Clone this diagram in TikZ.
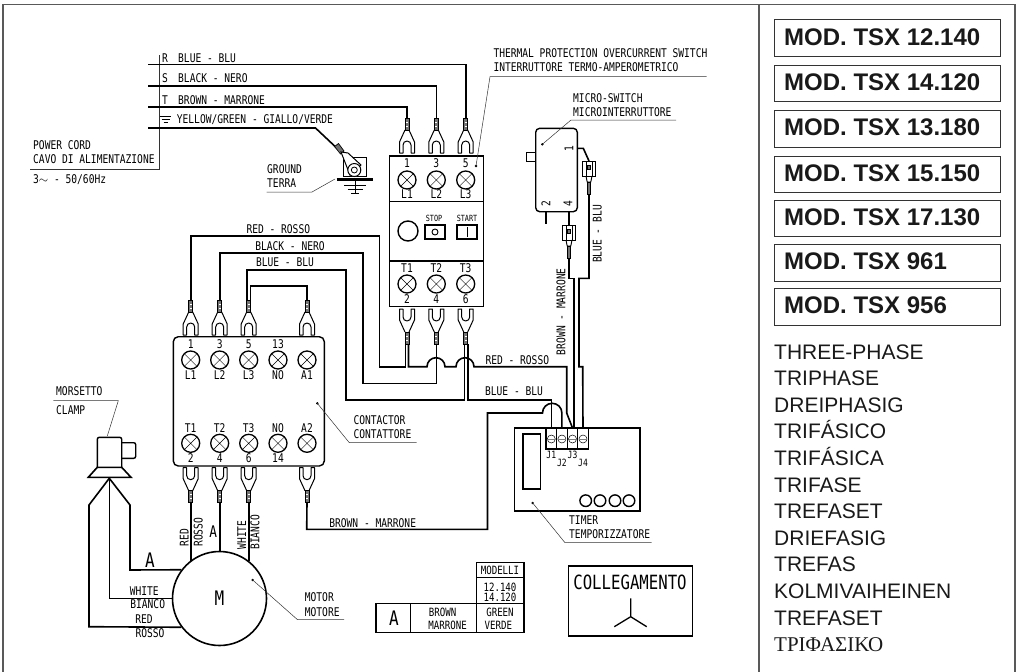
\documentclass[tikz,border=0pt]{standalone}
\usepackage{fontspec}
\usepackage{tikz}
\newfontfamily\cadfont[FakeStretch=0.8]{DejaVu Sans Mono}
\newfontfamily\helvfont{Liberation Sans}
\newfontfamily\timesfont{Liberation Serif}
\newcommand{\cadsmall}{\cadfont\fontsize{11.4}{11.4}\selectfont}
\newcommand{\cadbig}{\cadfont\fontsize{20}{20}\selectfont}
\tikzset{
	tag/.style={font=\cadfont\fontsize{12}{12}\selectfont,inner sep=0,text height=8.7pt,text depth=0pt,text=black},
	tagl/.style={tag,anchor=west},
	wire/.style={line width=1.6pt,line join=miter},
	leader/.style={line width=0.5pt,black!80},
	frameline/.style={line width=1.2pt,black!65},
	partline/.style={line width=1.4pt},
	fork/.pic={
		\filldraw[line width=0.7pt,fill=black!55] (-2,0) rectangle (2,12);
		\draw[line width=0.6pt,white] (-1,4)--(1,4) (-1,8)--(1,8);
		\draw[line width=1pt,line join=round] (-2,12)--(-7.5,24)--(-7.5,35)--(-4,35)--(-4,27) arc (180:360:4)--(4,35)--(7.5,35)--(7.5,24)--(2,12);},
	screw/.pic={
		\draw[line width=1.3pt] (0,0) circle (9);
		\draw[line width=0.4pt] (-6.4,-6.4)--(6.4,6.4) (-6.4,6.4)--(6.4,-6.4);},
	femcon/.pic={
		\draw[line width=1pt,fill=white] (-6.5,0) rectangle (6.5,15);
		\draw[line width=0.8pt] (-3,0)--(-3,15) (3,0)--(3,15);
		\filldraw[line width=0.5pt,fill=black!55] (-1.5,4) rectangle (1.5,8);
		\draw[line width=0.9pt] (-3,15)--(-1.8,21)--(1.8,21)--(3,15);
		\filldraw[line width=0.7pt,fill=black!55] (-1.8,21) rectangle (1.8,33);},
}
\begin{document}
\begin{tikzpicture}[x=1pt,y=-1pt]
	\useasboundingbox (0,0) rectangle (1018,672);
	% frame
	\coordinate (frmtl) at (3,4.5);
	\coordinate (frmbl) at (3,672);
	\coordinate (frmtr) at (1015,4.5);
	\coordinate (frmbr) at (1015,672);
	\coordinate (frmdt) at (759,4.5);
	\coordinate (frmdb) at (759,672);
	\draw[frameline] (frmbl)--(frmtl)--(frmtr)--(frmbr) (frmdt)--(frmdb);
	% model boxes
	\foreach \ya/\yb/\txt [count=\n] in {19.5/56.7/12.140,65/101.7/14.120,110.7/147.3/13.180,156/192.7/15.150,200/236.7/17.130,244.3/281.3/961,288.7/325.3/956}
	{\draw[line width=0.8pt,black!80] (774.3,\ya) rectangle (1000,\yb);
		\node[anchor=base west,inner sep=0,text=black!90,font=\helvfont\bfseries\fontsize{24}{24}\selectfont] (mod\n) at (784,\yb-11.5) {MOD. TSX \txt};}
	% phase names
	\foreach \txt [count=\n] in {THREE-PHASE,TRIPHASE,DREIPHASIG,TRIFÁSICO,TRIFÁSICA,TRIFASE,TREFASET,DRIEFASIG,TREFAS,KOLMIVAIHEINEN,TREFASET}
	{\pgfmathsetmacro{\yy}{359+26.6*(\n-1)}
		\node[anchor=base west,inner sep=0,text=black!90,font=\helvfont\fontsize{21}{21}\selectfont] (ph\n) at (774,\yy) {\txt};}
	\node[anchor=base west,inner sep=0,text=black!90,font=\timesfont\fontsize{21}{21}\selectfont] (ph12) at (774,651.6) {ΤΡΙΦΑΣΙΚΟ};
	% power cord
	\coordinate (cordR) at (148,64.5);
	\coordinate (cordS) at (148,86);
	\coordinate (cordT) at (148,107);
	\coordinate (cordG) at (148,128);
	\coordinate (cordtop) at (159,55);
	\coordinate (cordbot) at (159,169);
	\coordinate (cordend) at (30,169);
	\draw[leader] (cordtop)--(cordbot)--(cordend);
	\node[tagl] (pwr) at (33,145) {POWER CORD};
	\node[tagl] (cavo) at (33,159) {CAVO DI ALIMENTAZIONE};
	\node[tagl] (volt) at (33,179) {3$\sim$ - 50/60Hz};
	\node[tag] (lblr) at (165,58) {R};
	\node[tag] (lbls) at (165,78.5) {S};
	\node[tag] (lblt) at (165,100) {T};
	\node[tagl] (wblue) at (178,58) {BLUE - BLU};
	\node[tagl] (wblack) at (178,78.5) {BLACK - NERO};
	\node[tagl] (wbrown) at (178,100) {BROWN - MARRONE};
	\node[tagl] (wyellow) at (176.7,119) {YELLOW/GREEN - GIALLO/VERDE};
	\draw[line width=0.7pt] (160,116.5)--(171,116.5) (161.5,119.5)--(169.5,119.5) (163.5,122.5)--(167.5,122.5);
	% thermal switch
	\draw[partline] (389.3,156) rectangle (483.3,306.7);
	\coordinate (thdiva) at (389.3,201.7);
	\coordinate (thdivae) at (483.3,201.7);
	\coordinate (thdivb) at (389.3,261);
	\coordinate (thdivbe) at (483.3,261);
	\draw[partline] (thdiva)--(thdivae) (thdivb)--(thdivbe);
	\foreach \x/\upn/\lon/\ttn/\bbn [count=\n] in {407/1/L1/T1/2,436.3/3/L2/T2/4,465.7/5/L3/T3/6}
	{\coordinate (thin\n) at (\x,118);
		\coordinate (thout\n) at (\x,344);
		\pic at (thin\n) {fork};
		\pic[yscale=-1] at (thout\n) {fork};
		\pic at (\x,180) {screw};
		\pic at (\x,284) {screw};
		\node[tag] (thup\n) at (\x,163) {\upn};
		\node[tag] (thlo\n) at (\x,194) {\lon};
		\node[tag] (thtt\n) at (\x,268) {\ttn};
		\node[tag] (thbb\n) at (\x,299) {\bbn};}
	\draw[line width=1.4pt] (408,231) circle (10);
	\draw[partline] (425,225) rectangle (445,239);
	\draw[line width=0.9pt] (435,232) circle (3);
	\draw[partline] (457,225) rectangle (477,239);
	\draw[line width=0.9pt] (467,227)--(467,237);
	\node[tag,font=\cadfont\fontsize{8.5}{8.5}\selectfont,text height=6.5pt] (stp) at (434,218) {STOP};
	\node[tag,font=\cadfont\fontsize{8.5}{8.5}\selectfont,text height=6.5pt] (strt) at (467,218) {START};
	% supply wires
	\draw[wire] (cordR)-|(thin3);
	\draw[wire] (cordS)-|(thin2);
	\draw[wire] (cordT)-|(thin1);
	% ground
	\coordinate (gndcrimp) at (336.7,148);
	\draw[wire] (cordG)--(315.5,128)--(gndcrimp);
	\filldraw[line width=0.7pt,fill=black!55] (334.5,146.5)--(338.5,143.5)--(344,151)--(340.5,154)--cycle;
	\draw[line width=1pt] (343,157.7)--(366,157.7)--(366,176.7)--(343,176.7)--cycle;
	\draw[line width=1pt,fill=white] (341,152)--(350,175)--(361,165)--(348,153)--cycle;
	\draw[line width=1pt,fill=white] (354.3,170) circle (6.5);
	\draw[line width=0.8pt] (354.3,170) circle (3);
	\draw[line width=3pt] (336.7,179)--(372.7,179);
	\draw[line width=1pt] (355,179)--(355,193.5) (344,185)--(366,185) (347.5,189.5)--(362.5,189.5) (351,193.5)--(359,193.5);
	\coordinate (gndpt) at (335,179);
	\coordinate (gndl) at (312,192);
	\coordinate (gnde) at (266.7,192);
	\draw[leader] (gndpt)--(gndl)--(gnde);
	\node[tagl] (gnd) at (267,169) {GROUND};
	\node[tagl] (terra) at (267,183) {TERRA};
	% thermal label
	\coordinate (thpt) at (476,166);
	\coordinate (thl) at (490,76.7);
	\coordinate (the) at (706.7,76.7);
	\filldraw (thpt) circle (1);
	\draw[leader] (thpt)--(thl)--(the);
	\node[tagl] (ther) at (493.3,53.3) {THERMAL PROTECTION OVERCURRENT SWITCH};
	\node[tagl] (inte) at (493.3,67.3) {INTERRUTTORE TERMO-AMPEROMETRICO};
	% micro switch
	\draw[line width=1.4pt,rounded corners=4] (535.7,128.3) rectangle (577.3,211.7);
	\draw[partline] (535.7,152.7)--(526.7,152.7)--(526.7,161.7)--(535.7,161.7);
	\node[tag,rotate=90] (ms1) at (569,149) {1};
	\node[tag,rotate=90] (ms2) at (546,204) {2};
	\node[tag,rotate=90] (ms4) at (568,204) {4};
	\coordinate (msnc) at (546,211.7);
	\coordinate (msnce) at (546,224.3);
	\draw[wire] (msnc)--(msnce);
	\coordinate (mscona) at (569,225);
	\coordinate (msconb) at (589,161);
	\coordinate (msfoura) at (569,211.7);
	\coordinate (msone) at (577.3,148.3);
	\draw[wire] (msfoura)--(mscona);
	\draw[wire] (msone)--(583.3,148.3)--(msconb);
	\pic at (mscona) {femcon};
	\pic at (msconb) {femcon};
	\coordinate (mspt) at (542.3,144.3);
	\coordinate (msl) at (571,120);
	\coordinate (mse) at (676,120);
	\filldraw (mspt) circle (1);
	\draw[leader] (mspt)--(msl)--(mse);
	\node[tagl] (msw) at (573,97.7) {MICRO-SWITCH};
	\node[tagl] (mswi) at (573,111.7) {MICROINTERRUTTORE};
	\node[tag,rotate=90] (wbl) at (597.3,234) {BLUE - BLU};
	\node[tag,rotate=90] (wbr) at (561,311.7) {BROWN - MARRONE};
	% timer
	\draw[partline] (514.3,428) rectangle (640,511);
	\draw[partline] (523,434) rectangle (540.5,489);
	\foreach \x in {585.7,600,615,629}
	\draw[line width=1.4pt] (\x,500.7) circle (5.8);
	\filldraw[fill=white,line width=1.3pt] (546,428) rectangle (588.3,449);
	\foreach \x/\yl [count=\n] in {551.3/455,561.9/463,572.5/455,583/463}
	{\coordinate (j\n) at (\x,428);
		\draw[line width=0.5pt] (\x,439) circle (4);
		\draw[line width=1pt,black!50] (\x-4,439)--(\x+4,439);
		\node[tag,font=\cadfont\fontsize{10}{10}\selectfont,text height=7.3pt] (jl\n) at (\x,\yl) {J\n};}
	\foreach \x in {556.6,567.2,577.8}
	\draw[line width=1pt] (\x,428)--(\x,449);
	\coordinate (tmpt) at (532.7,503);
	\coordinate (tml) at (565,542.7);
	\coordinate (tme) at (651.7,542.7);
	\filldraw (tmpt) circle (1);
	\draw[leader] (tmpt)--(tml)--(tme);
	\node[tagl] (tmr) at (569,520) {TIMER};
	\node[tagl] (tmp) at (569,534) {TEMPORIZZATORE};
	% contactor
	\draw[line width=1.4pt,rounded corners=5] (173.3,336.7) rectangle (324.3,466);
	\foreach \x/\upn/\lon/\ttn/\bbn [count=\n] in {190.7/1/L1/T1/2,219.7/3/L2/T2/4,248.7/5/L3/T3/6,278/13/NO/NO/14,307/{}/A1/A2/{}}
	{\pic at (\x,360) {screw};
		\pic at (\x,443.3) {screw};
		\node[tag] (ctup\n) at (\x,344) {\upn};
		\node[tag] (ctlo\n) at (\x,375) {\lon};
		\node[tag] (cttt\n) at (\x,427.7) {\ttn};
		\node[tag] (ctbb\n) at (\x,458) {\bbn};}
	\foreach \x/\m in {190.7/1,219.7/2,248.7/3,307/5}
	{\coordinate (ctin\m) at (\x,300);
		\coordinate (ctout\m) at (\x,502.7);
		\pic at (ctin\m) {fork};
		\pic[yscale=-1] at (ctout\m) {fork};}
	\coordinate (ctpt) at (317.3,403.3);
	\coordinate (ctl) at (349.3,442.7);
	\coordinate (cte) at (416.7,442.7);
	\filldraw (ctpt) circle (1);
	\draw[leader] (ctpt)--(ctl)--(cte);
	\node[tagl] (ctr) at (353.3,420) {CONTACTOR};
	\node[tagl] (ctt) at (353.3,434) {CONTATTORE};
	% wires between the blocks
	\draw[wire] (ctin1)--(190.7,236)-|(379.3,366.7)-|(405.5,344);
	\draw[wire] (ctin2)--(219.7,252.7)-|(362.7,383.3)-|(thout2);
	\draw[wire] (246.9,300)--(246.9,270)-|(345.7,400)-|(464.3,344);
	\draw[wire] (250.5,300)--(250.5,286)-|(ctin5);
	\node[tag] (rr) at (278.3,229) {RED - ROSSO};
	\node[tag] (bn) at (290,245.7) {BLACK - NERO};
	\node[tag] (bb) at (285,262.3) {BLUE - BLU};
	\draw[wire] (408.5,344)--(408.5,366.7)--(427,366.7) arc (180:360:9)--(456,366.7) arc (180:360:9)--(566.7,366.7)--(566.7,413)--(j3);
	\draw[wire] (467.7,344)--(467.7,400)-|(j1);
	\draw[wire] (ctout5)--(306.7,529.3)-|(487.5,413)--(542.5,413) arc (180:360:9.7)--(j2);
	\draw[wire] (mscona)+(0,33)--(569,278.3)--(574,278.3)--(574,428);
	\draw[wire] (msconb)+(0,33)--(589,278.3)--(579,278.3)--(579,366.7)--(582.7,366.7)--(j4);
	\node[tag] (rr2) at (517.3,360) {RED - ROSSO};
	\node[tag] (bb2) at (514,390.7) {BLUE - BLU};
	\node[tag] (bm) at (372.7,522.7) {BROWN - MARRONE};
	% motor
	\node[circle,draw,line width=1.6pt,minimum size=94pt,inner sep=0,font=\cadbig] (motor) at (219.5,598.5) {M};
	\draw[wire] (ctout1)--(ctout1|-motor.128);
	\draw[wire] (ctout2)--(ctout2|-motor.90);
	\draw[wire] (ctout3)--(ctout3|-motor.52);
	% clamp
	\coordinate (clp) at (109.3,478.3);
	\draw[partline,rounded corners=2] (97.3,467.3)--(97.3,437.3)--(121.7,437.3)--(121.7,467.3);
	\draw[partline,rounded corners=2] (121.7,442.7)--(135.7,442.7)--(135.7,458.3)--(121.7,458.3);
	\draw[line width=1.6pt] (97.3,467.3)--(121.7,467.3)--(131,477.3)--(88.3,477.3)--cycle;
	\draw[wire] (motor.143)--(130,570)--(130,505)--(clp);
	\draw[wire] (motor.180)--(109.3,598.5)--(clp);
	\draw[wire] (motor.217)--(89,626.7)--(89,505)--(clp);
	\coordinate (clpt) at (107.3,436);
	\coordinate (cll) at (118.3,400.7);
	\coordinate (cle) at (53.3,400.7);
	\draw[leader] (clpt)--(cll)--(cle);
	\node[tagl] (mrs) at (56,391) {MORSETTO};
	\node[tagl] (clm) at (56,410) {CLAMP};
	% motor labels
	\node[tag,rotate=90] (mred) at (184.3,537.7) {RED};
	\node[tag,rotate=90] (mros) at (198.3,532.3) {ROSSO};
	\node[tag,font=\cadfont\fontsize{16}{16}\selectfont,text height=11.7pt] (ma) at (213.3,531.7) {A};
	\node[tag,rotate=90] (mwh) at (241.7,535) {WHITE};
	\node[tag,rotate=90] (mbi) at (255,532.3) {BIANCO};
	\node[tag,font=\cadbig,text height=14.6pt] (ca) at (150,560) {A};
	\node[tag] (cwh) at (144.3,590.7) {WHITE};
	\node[tag] (cbi) at (147.7,604.3) {BIANCO};
	\node[tag] (crd) at (144,619) {RED};
	\node[tag] (cro) at (150,632.7) {ROSSO};
	\coordinate (mopt) at (252.7,580);
	\coordinate (mol) at (297.3,619.5);
	\coordinate (moe) at (344,619.5);
	\filldraw (mopt) circle (1);
	\draw[leader] (mopt)--(mol)--(moe);
	\node[tagl] (mtr) at (304.7,597.3) {MOTOR};
	\node[tagl] (mte) at (304.7,611.7) {MOTORE};
	% table
	\draw[partline] (376,603.3) rectangle (524,632.3);
	\draw[partline] (476.7,562.3) rectangle (524,603.3);
	\coordinate (taba) at (410.7,603.3);
	\coordinate (tabb) at (410.7,632.3);
	\coordinate (tabc) at (476.7,603.3);
	\coordinate (tabd) at (476.7,632.3);
	\coordinate (tabe) at (476.7,577.7);
	\coordinate (tabf) at (524,577.7);
	\draw[partline] (taba)--(tabb) (tabc)--(tabd) (tabe)--(tabf);
	\node[tag,font=\cadsmall] (tm) at (500,570) {MODELLI};
	\node[tag,font=\cadsmall] (t12) at (500,586.7) {12.140};
	\node[tag,font=\cadsmall] (t14) at (500,596.7) {14.120};
	\node[tag,font=\cadbig,text height=14.6pt] (ta) at (394,618.3) {A};
	\node[tag,font=\cadsmall] (tb) at (442.7,612) {BROWN};
	\node[tag,font=\cadsmall] (tmr2) at (447.7,625.3) {MARRONE};
	\node[tag,font=\cadsmall] (tg) at (500,612) {GREEN};
	\node[tag,font=\cadsmall] (tv) at (498.3,625.3) {VERDE};
	% connection box
	\draw[partline] (568.3,566) rectangle (692.7,636);
	\node[tag,font=\cadfont\fontsize{19.6}{19.6}\selectfont,text height=14.3pt] (coll) at (630,582.7) {COLLEGAMENTO};
	\coordinate (star) at (630.7,616.7);
	\coordinate (stara) at (630.7,598.3);
	\coordinate (starb) at (614.3,626.7);
	\coordinate (starc) at (646.7,626.7);
	\draw[line width=1.3pt] (star)--(stara) (star)--(starb) (star)--(starc);
\end{tikzpicture}
\end{document}
